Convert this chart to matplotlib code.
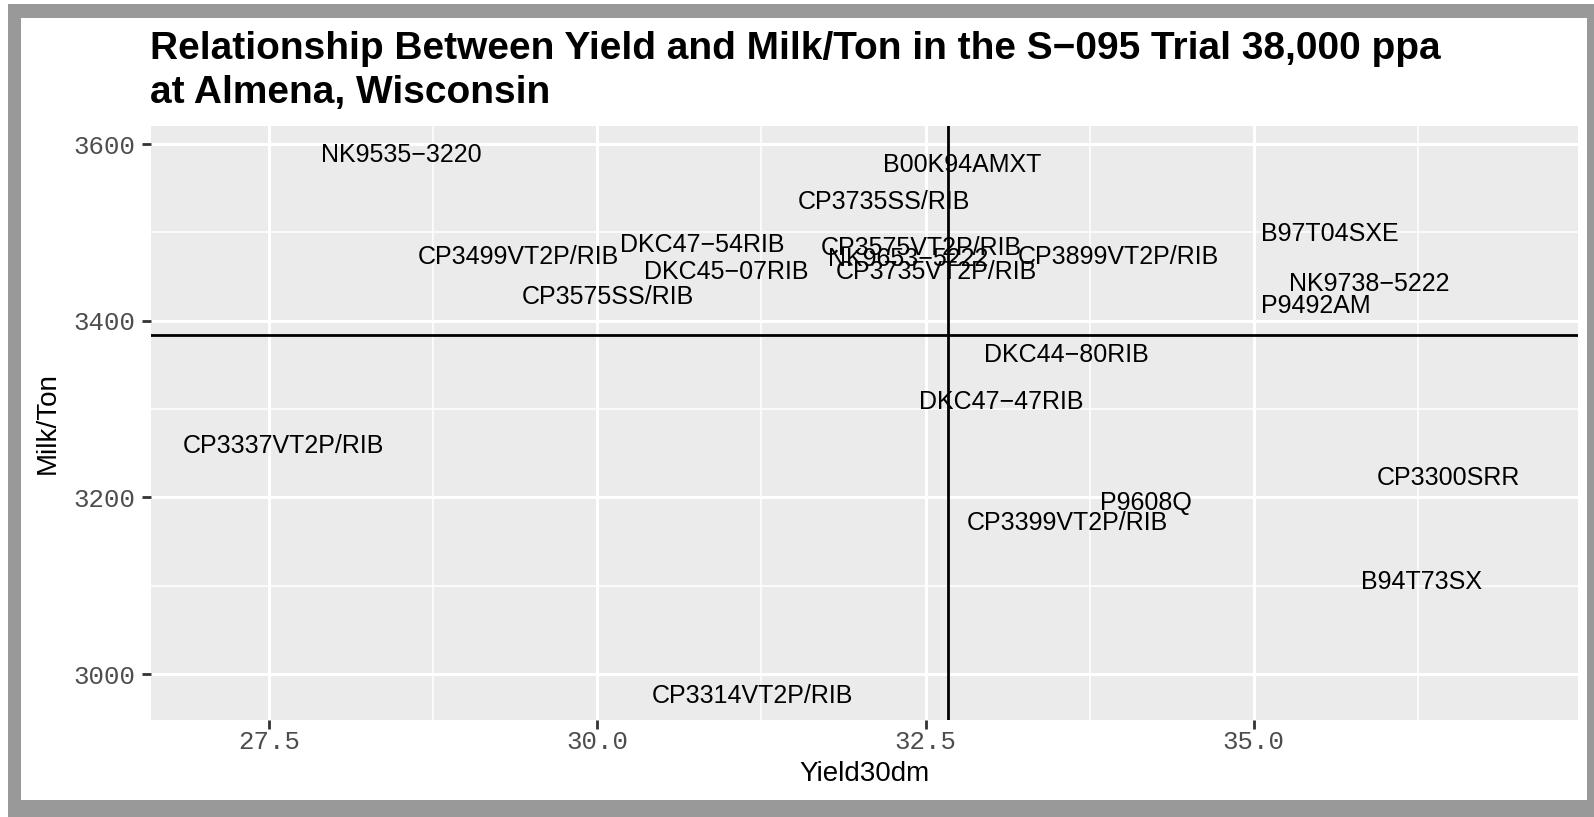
import matplotlib
matplotlib.use("Agg")
import matplotlib.pyplot as plt
from matplotlib.patches import Rectangle
from matplotlib.ticker import FixedLocator
from matplotlib.transforms import offset_copy

# ---- data ----
hybrids = ["NK9535\u22123220", "B00K94AMXT", "CP3735SS/RIB", "B97T04SXE",
           "CP3499VT2P/RIB", "DKC47\u221254RIB", "DKC45\u221207RIB", "CP3575VT2P/RIB",
           "NK9653\u22125222", "CP3735VT2P/RIB", "CP3899VT2P/RIB", "NK9738\u22125222",
           "P9492AM", "CP3575SS/RIB", "DKC44\u221280RIB", "DKC47\u221247RIB",
           "CP3337VT2P/RIB", "CP3300SRR", "P9608Q", "CP3399VT2P/RIB",
           "B94T73SX", "CP3314VT2P/RIB"]
yield30dm = [28.51, 32.78, 32.18, 35.58,
             29.40, 30.80, 30.98, 32.47,
             32.37, 32.58, 33.97, 35.88,
             35.47, 30.08, 33.57, 33.08,
             27.61, 36.48, 34.18, 33.58,
             36.28, 31.18]
milk_ton = [3590, 3579, 3537, 3500,
            3474, 3488, 3458, 3485,
            3472, 3457, 3474, 3444,
            3419, 3429, 3363, 3310,
            3260, 3224, 3196, 3173,
            3107, 2978]
mean_yield = 32.67
mean_milk = 3384
x_ticks = [27.5, 30.0, 32.5, 35.0]
x_tick_labels = ["27.5", "30.0", "32.5", "35.0"]
y_ticks = [3000, 3200, 3400, 3600]
y_tick_labels = ["3000", "3200", "3400", "3600"]
x_minor = [28.75, 31.25, 33.75, 36.25]
y_minor = [3100, 3300, 3500]
title = "Relationship Between Yield and Milk/Ton in the S\u2212095 Trial 38,000 ppa\nat Almena, Wisconsin"

W, H = 1594, 817
fig = plt.figure(figsize=(W / 100, H / 100), dpi=100)
fig.patch.set_facecolor("white")

# gray frame
fig.patches.append(Rectangle((8 / W, 0), 1 - 8 / W, (H - 4) / H,
                             transform=fig.transFigure, facecolor="#999999",
                             edgecolor="none", zorder=-3))
fig.patches.append(Rectangle((21 / W, (H - 800) / H), (1587 - 21) / W, (800 - 18) / H,
                             transform=fig.transFigure, facecolor="white",
                             edgecolor="none", zorder=-2))

left, right, top, bottom = 151, 1578, 126, 720
ax = fig.add_axes([left / W, 1 - bottom / H, (right - left) / W, (bottom - top) / H])
ax.set_zorder(1)
ax.set_facecolor("#EBEBEB")
for s in ax.spines.values():
    s.set_visible(False)

ax.set_xlim(26.60, 37.47)
ax.set_ylim(2948, 3620.5)

ax.set_xticks(x_ticks)
ax.set_xticklabels(x_tick_labels)
ax.set_yticks(y_ticks)
ax.set_yticklabels(y_tick_labels)
ax.xaxis.set_minor_locator(FixedLocator(x_minor))
ax.yaxis.set_minor_locator(FixedLocator(y_minor))
ax.grid(which="major", color="white", linewidth=2.2)
ax.grid(which="minor", color="white", linewidth=1.1)
ax.set_axisbelow(True)
ax.tick_params(which="major", length=6.5, width=2.0, color="#333333",
               labelcolor="#4D4D4D", labelsize=18.5)
ax.tick_params(axis="y", which="major", pad=4.5)
ax.tick_params(axis="x", which="major", pad=0.5)
ax.tick_params(which="minor", length=0)
for lab in ax.get_xticklabels() + ax.get_yticklabels():
    lab.set_family("Liberation Mono")

ax.axvline(mean_yield, color="black", linewidth=2.0, zorder=2)
ax.axhline(mean_milk, color="black", linewidth=2.0, zorder=2)

text_tr = offset_copy(ax.transData, fig=fig, x=0, y=-2, units="dots")
for name, xv, yv in zip(hybrids, yield30dm, milk_ton):
    ax.text(xv, yv, name, ha="center", va="center", fontsize=18,
            family="Liberation Sans", color="black", zorder=3, transform=text_tr)

ax.set_xlabel("Yield30dm", fontsize=20, family="Liberation Sans", labelpad=5)
ax.set_ylabel("Milk/Ton", fontsize=20, family="Liberation Sans", labelpad=9)

fig.text(150 / W, 1 - 31 / H, title, ha="left", va="top", fontsize=28,
         fontweight="bold", family="Liberation Sans", linespacing=1.27)

fig.savefig("out.png", dpi=100)
